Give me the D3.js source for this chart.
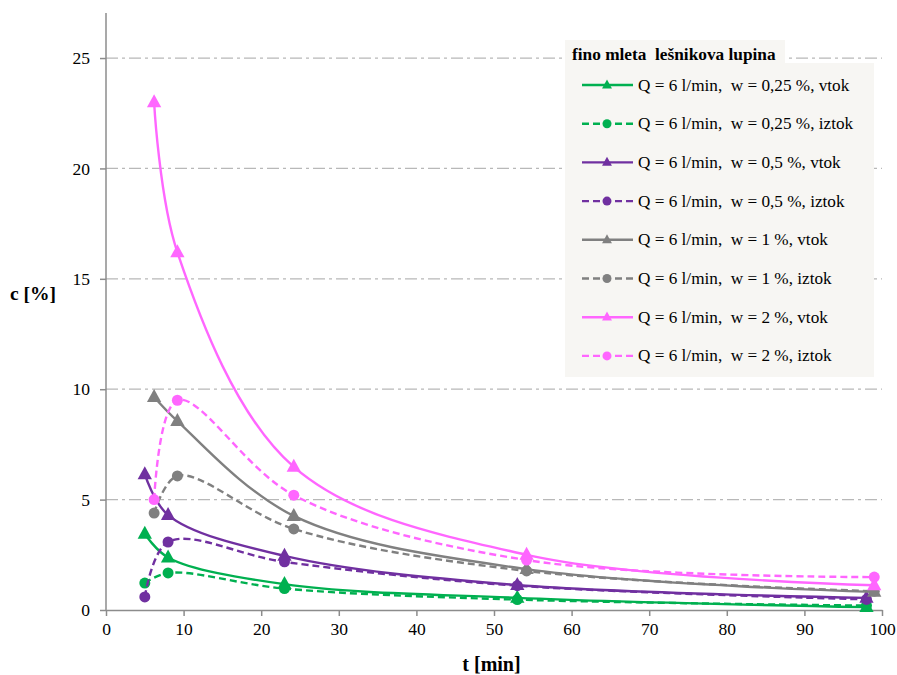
<!DOCTYPE html>
<html>
<head>
<meta charset="utf-8">
<script src="https://cdn.jsdelivr.net/npm/d3@7"></script>
<style>
  body { margin: 0; background: #fff; }
  svg text { font-family: "Liberation Serif", Tinos, "Times New Roman", Times, "DejaVu Serif", serif; white-space: pre; }
</style>
</head>
<body>
<div id="chart"></div>
<script>
// series data (t in min, c in %)
const seriesNames = [
    "Q = 6 l/min,  w = 0,25 %, vtok",
    "Q = 6 l/min,  w = 0,25 %, iztok",
    "Q = 6 l/min,  w = 0,5 %, vtok",
    "Q = 6 l/min,  w = 0,5 %, iztok",
    "Q = 6 l/min,  w = 1 %, vtok",
    "Q = 6 l/min,  w = 1 %, iztok",
    "Q = 6 l/min,  w = 2 %, vtok",
    "Q = 6 l/min,  w = 2 %, iztok"
];
const tGroupA = [5, 8, 23, 53, 98];       // 0,25 % and 0,5 %
const tGroupB = [6.2, 9.2, 24.2, 54.2, 99]; // 1 % and 2 %

const green_vtok = [3.45, 2.38, 1.17, 0.55, 0.13];
const green_iztok = [1.22, 1.68, 0.97, 0.47, 0.2];
const purple_vtok = [6.15, 4.3, 2.45, 1.13, 0.55];
const purple_iztok = [0.59, 3.08, 2.18, 1.1, 0.48];
const gray_vtok = [9.65, 8.56, 4.26, 1.85, 0.82];
const gray_iztok = [4.39, 6.07, 3.67, 1.77, 0.85];
const pink_vtok = [23.0, 16.2, 6.48, 2.5, 1.12];
const pink_iztok = [5.0, 9.5, 5.2, 2.26, 1.49];

const xTicks = [0, 10, 20, 30, 40, 50, 60, 70, 80, 90, 100];
const yTicks = [0, 5, 10, 15, 20, 25];

const legendTitle = "fino mleta  lešnikova lupina";

const FONT = "'Liberation Serif', Tinos, 'Times New Roman', Times, 'DejaVu Serif', serif";

// ---- layout
const W = 897, H = 675;
const plot = { left: 106, right: 882, top: 13, bottom: 610 };

const svg = d3.select("#chart").append("svg")
    .attr("width", W)
    .attr("height", H)
    .attr("font-family", FONT);

const x = d3.scaleLinear().domain([0, 100]).range([plot.left, plot.right]);
const y = d3.scaleLinear().domain([0, 27.04]).range([plot.bottom, plot.top]);

const colors = ["#00b050", "#00b050", "#7030a0", "#7030a0", "#808080", "#808080", "#ff66ff", "#ff66ff"];
const allValues = [green_vtok, green_iztok, purple_vtok, purple_iztok, gray_vtok, gray_iztok, pink_vtok, pink_iztok];

const series = allValues.map((vals, i) => ({
    name: seriesNames[i],
    color: colors[i],
    dashed: i % 2 === 1,
    marker: i % 2 === 0 ? "triangle" : "circle",
    points: vals.map((v, j) => ({ t: (i < 4 ? tGroupA : tGroupB)[j], c: v }))
}));

// gridlines (dash-dot)
svg.append("g")
    .selectAll("line")
    .data(yTicks.filter(d => d > 0))
    .enter().append("line")
    .attr("x1", plot.left).attr("x2", plot.right)
    .attr("y1", d => y(d)).attr("y2", d => y(d))
    .attr("stroke", "#b8b8b8")
    .attr("stroke-width", 1.2)
    .attr("stroke-dasharray", "12,4,3,4");

// axes
const axisColor = "#8c8c8c";
const xAxis = svg.append("g")
    .attr("transform", `translate(0, ${plot.bottom})`)
    .call(d3.axisBottom(x).tickValues(xTicks).tickSize(6).tickSizeOuter(0).tickPadding(7));
const yAxis = svg.append("g")
    .attr("transform", `translate(${plot.left}, 0)`)
    .call(d3.axisLeft(y).tickValues(yTicks).tickSize(6).tickSizeOuter(0).tickPadding(10));

[xAxis, yAxis].forEach(a => {
    a.attr("font-family", FONT).attr("font-size", 17.5);
    a.select(".domain").attr("stroke", axisColor).attr("stroke-width", 1.5);
    a.selectAll(".tick line").attr("stroke", axisColor).attr("stroke-width", 1.5);
    a.selectAll(".tick text").attr("fill", "#000");
});
// y domain should span full height
yAxis.select(".domain").attr("d", `M0,${plot.bottom}V${plot.top}`);

// axis titles
svg.append("text")
    .attr("x", 10).attr("y", 300)
    .attr("font-weight", "bold")
    .attr("font-size", "19.5px")
    .text("c [%]");

svg.append("text")
    .attr("x", 491.5).attr("y", 671)
    .attr("text-anchor", "middle")
    .attr("font-weight", "bold")
    .attr("font-size", "20px")
    .text("t [min]");

// lines
const line = d3.line()
    .x(d => x(d.t))
    .y(d => y(d.c))
    .curve(d3.curveCatmullRom.alpha(0.5));

const triangle = s => `M0,${-s * 0.62}L${s * 0.55},${s * 0.38}L${-s * 0.55},${s * 0.38}Z`;

series.forEach(s => {
    const g = svg.append("g");
    g.append("path")
        .datum(s.points)
        .attr("d", line)
        .attr("fill", "none")
        .attr("stroke", s.color)
        .attr("stroke-width", 2.4)
        .attr("stroke-dasharray", s.dashed ? "7,4" : null);

    if (s.marker === "triangle") {
        g.selectAll("path.m")
            .data(s.points)
            .enter().append("path")
            .attr("class", "m")
            .attr("transform", d => `translate(${x(d.t)}, ${y(d.c)})`)
            .attr("d", triangle(13))
            .attr("fill", s.color);
    } else {
        g.selectAll("circle")
            .data(s.points)
            .enter().append("circle")
            .attr("cx", d => x(d.t))
            .attr("cy", d => y(d.c))
            .attr("r", 5.5)
            .attr("fill", s.color);
    }
});

// legend
const legend = svg.append("g");
legend.append("rect")
    .attr("x", 565).attr("y", 40)
    .attr("width", 220).attr("height", 24)
    .attr("fill", "#f7f6f3");
legend.append("rect")
    .attr("x", 565).attr("y", 63)
    .attr("width", 309).attr("height", 314)
    .attr("fill", "#f7f6f3");
legend.append("text")
    .attr("x", 572).attr("y", 60)
    .attr("font-weight", "bold")
    .attr("font-size", "17.3px")
    .text(legendTitle);

series.forEach((s, i) => {
    const ly = 85 + i * 38.7;
    legend.append("line")
        .attr("x1", 582).attr("x2", 633)
        .attr("y1", ly).attr("y2", ly)
        .attr("stroke", s.color)
        .attr("stroke-width", 2.4)
        .attr("stroke-dasharray", s.dashed ? "7,4" : null);
    if (s.marker === "triangle") {
        legend.append("path")
            .attr("transform", `translate(607, ${ly})`)
            .attr("d", triangle(9))
            .attr("fill", s.color);
    } else {
        legend.append("circle")
            .attr("cx", 607).attr("cy", ly)
            .attr("r", 4.5)
            .attr("fill", s.color);
    }
    legend.append("text")
        .attr("x", 638).attr("y", ly + 5.5)
        .attr("font-size", "17.2px")
        .text(s.name);
});
</script>
</body>
</html>
